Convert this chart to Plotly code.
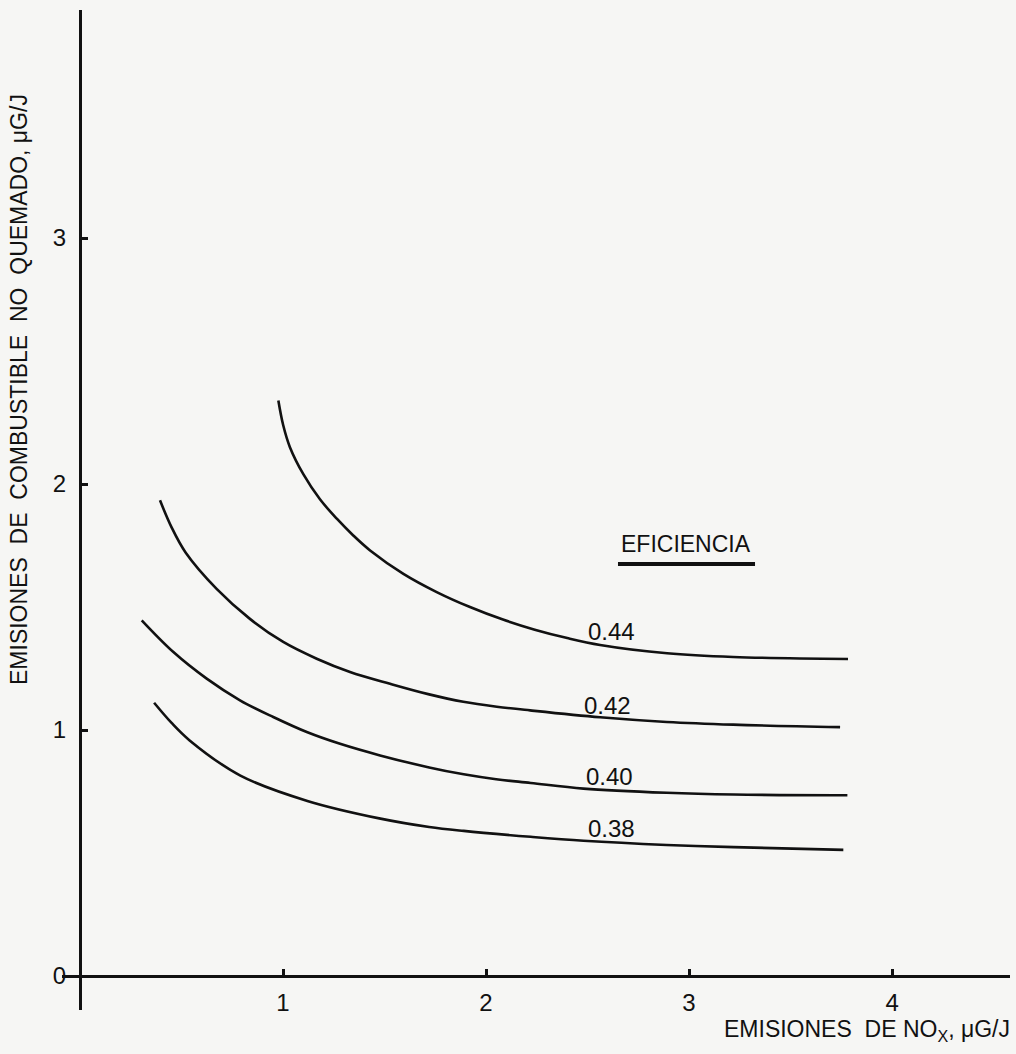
import plotly.graph_objects as go

# ---- data ----
eff_labels = ["0.44", "0.42", "0.40", "0.38"]

x_044 = [0.977, 1.001, 1.034, 1.100, 1.182, 1.265, 1.346, 1.429, 1.593, 1.757, 1.921, 2.080, 2.240, 2.400, 2.562, 2.892, 3.217, 3.783]
y_044 = [2.340, 2.239, 2.150, 2.040, 1.938, 1.859, 1.791, 1.730, 1.635, 1.561, 1.500, 1.450, 1.408, 1.374, 1.346, 1.312, 1.297, 1.289]

x_042 = [0.394, 0.450, 0.520, 0.673, 0.837, 1.001, 1.166, 1.330, 1.527, 1.720, 1.888, 2.053, 2.217, 2.562, 2.890, 3.218, 3.744]
y_042 = [1.934, 1.826, 1.722, 1.574, 1.452, 1.358, 1.290, 1.236, 1.188, 1.145, 1.115, 1.095, 1.080, 1.052, 1.033, 1.022, 1.012]

x_040 = [0.304, 0.460, 0.624, 0.788, 0.952, 1.117, 1.281, 1.478, 1.720, 1.890, 2.050, 2.220, 2.480, 2.890, 3.220, 3.780]
y_040 = [1.446, 1.317, 1.209, 1.121, 1.053, 0.992, 0.944, 0.897, 0.848, 0.820, 0.800, 0.785, 0.762, 0.745, 0.738, 0.735]

x_038 = [0.365, 0.450, 0.540, 0.790, 1.120, 1.480, 1.720, 1.890, 2.220, 2.480, 2.890, 3.220, 3.760]
y_038 = [1.111, 1.030, 0.958, 0.815, 0.712, 0.640, 0.606, 0.590, 0.566, 0.550, 0.533, 0.524, 0.513]

# label anchor positions (data coords) for the efficiency labels
label_x = [2.62, 2.60, 2.61, 2.62]
label_y = [1.40, 1.10, 0.81, 0.60]

x_ticks = [1, 2, 3, 4]
y_ticks = [0, 1, 2, 3]

x_title = "EMISIONES  DE NO<sub>X</sub>, μG/J"
y_title = "EMISIONES  DE  COMBUSTIBLE  NO  QUEMADO, μG/J"
legend_title = "EFICIENCIA"

# ---- styling ----
W, H = 1016, 1054
ML, MR, MT, MB = 62, 6, 10, 44
X_RANGE = [-0.0887, 4.581]
Y_RANGE = [-0.138, 3.927]
INK = "#111111"
BG = "#f6f6f4"
FONT = "Liberation Sans, Arial, sans-serif"
FS = 23
FS_NUM = 24

fig = go.Figure()
series = [(x_044, y_044), (x_042, y_042), (x_040, y_040), (x_038, y_038)]
for (xs, ys), name in zip(series, eff_labels):
    fig.add_trace(go.Scatter(x=xs, y=ys, mode="lines", name=name,
                             line=dict(color=INK, width=2.6, shape="spline", smoothing=1.0),
                             hoverinfo="skip", showlegend=False))

for name, lx, ly in zip(eff_labels, label_x, label_y):
    fig.add_annotation(x=lx, y=ly, text=name, showarrow=False, xref="x", yref="y",
                       font=dict(size=FS_NUM, color=INK, family=FONT))

fig.add_annotation(x=2.985, y=1.755, text=legend_title, showarrow=False, xref="x", yref="y",
                   font=dict(size=FS, color=INK, family=FONT))
fig.add_shape(type="line", xref="x", yref="y", x0=2.65, x1=3.325, y0=1.675, y1=1.675,
              line=dict(color=INK, width=4))

pw = W - ML - MR
ph = H - MT - MB
def px_to_paper_x(px):
    return (px - ML) / pw
def px_to_paper_y(py):
    return (H - MB - py) / ph

fig.add_annotation(x=px_to_paper_x(19), y=px_to_paper_y(390), xref="paper", yref="paper",
                   xanchor="center", yanchor="middle",
                   text=y_title, textangle=-90, showarrow=False,
                   font=dict(size=FS, color=INK, family=FONT))
fig.add_annotation(x=px_to_paper_x(1012), y=px_to_paper_y(1030), xref="paper", yref="paper",
                   xanchor="right", yanchor="middle", text=x_title, showarrow=False,
                   font=dict(size=FS, color=INK, family=FONT))

xpos = (0 - Y_RANGE[0]) / (Y_RANGE[1] - Y_RANGE[0])
ypos = (0 - X_RANGE[0]) / (X_RANGE[1] - X_RANGE[0])

fig.update_layout(
    width=W, height=H,
    margin=dict(l=ML, r=MR, t=MT, b=MB),
    paper_bgcolor=BG, plot_bgcolor=BG,
    font=dict(family=FONT, color=INK, size=FS),
    xaxis=dict(range=X_RANGE, anchor="free", position=xpos, showline=True,
               linecolor=INK, linewidth=3, showgrid=False, zeroline=False,
               tickmode="array", tickvals=x_ticks, ticktext=[str(v) for v in x_ticks],
               ticks="inside", ticklen=6, tickwidth=2.5, tickcolor=INK,
               ticklabelstandoff=4, tickfont=dict(size=FS_NUM, family=FONT, color=INK)),
    yaxis=dict(range=Y_RANGE, anchor="free", position=ypos, showline=True,
               linecolor=INK, linewidth=3, showgrid=False, zeroline=False,
               tickmode="array", tickvals=y_ticks, ticktext=[str(v) for v in y_ticks],
               ticks="inside", ticklen=6, tickwidth=2.5, tickcolor=INK,
               ticklabelstandoff=8, tickfont=dict(size=FS_NUM, family=FONT, color=INK)),
)

fig.write_html("out.html")
